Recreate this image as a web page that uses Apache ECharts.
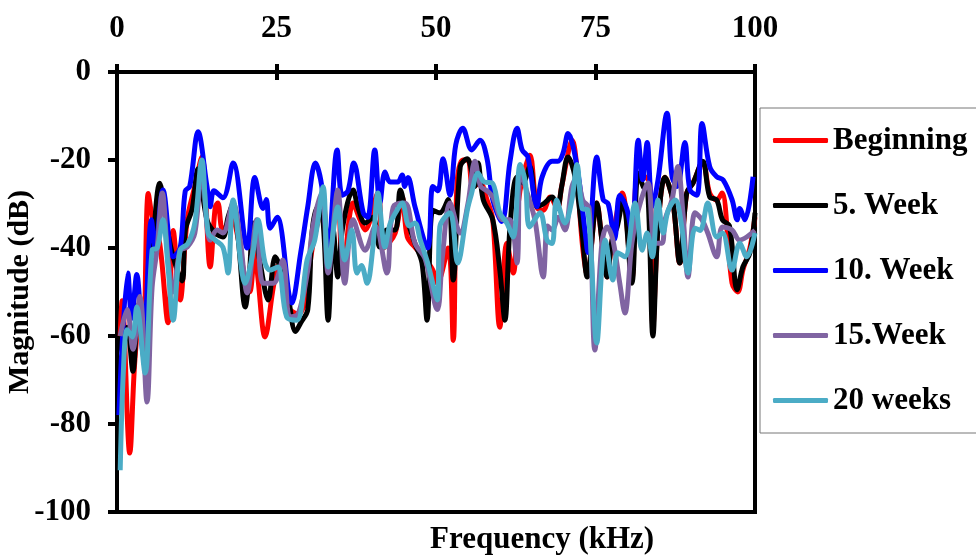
<!DOCTYPE html>
<html>
<head>
<meta charset="utf-8">
<script src="https://cdn.jsdelivr.net/npm/echarts@6/dist/echarts.min.js"></script>
<style>html,body{margin:0;padding:0;background:#fff}#c{width:976px;height:555px}</style>
</head>
<body>
<div id="c"></div>
<script>
const seriesNames = ['Beginning', '5. Week', '10. Week', '15.Week', '20 weeks'];
const seriesColors = ['#FF0000', '#000000', '#0000FF', '#8064A2', '#4BACC6'];
const xTicks = [0, 25, 50, 75, 100];
const yTicks = [0, -20, -40, -60, -80, -100];

const beginning = [[0.5,-60],[0.8,-52],[2.0,-86.6],[2.8,-65.5],[3.6,-55],[4.1,-63.9],[4.9,-27.6],[5.6,-33.6],[6.7,-39],[8.0,-57],[8.8,-36],[9.9,-51.8],[11.0,-33.6],[12.2,-26],[13.3,-19.3],[14.6,-44.3],[15.4,-30.7],[15.8,-29.8],[16.6,-35.9],[18.0,-33.6],[19.0,-38],[20.1,-47.3],[20.8,-50],[21.6,-40.5],[22.1,-47],[23.2,-60.2],[24.5,-48.9],[25.2,-44],[26.8,-53.4],[28.4,-55],[29.5,-52],[30.5,-41],[31.3,-35.2],[32.3,-29.8],[33.1,-43.4],[34.6,-28.4],[35.4,-46],[37.0,-29.8],[38.1,-33.6],[38.9,-35.9],[40.9,-27.5],[41.8,-40],[43.6,-36.6],[44.7,-28.4],[45.5,-37.5],[46.7,-39.8],[48.3,-42.5],[49.5,-45],[50.2,-48],[51.9,-40],[52.7,-61],[53.3,-25.2],[54.2,-20],[55.0,-20],[55.8,-26.1],[56.9,-25.2],[58.0,-29.1],[58.9,-33.6],[60.0,-58],[61.1,-38.9],[62.1,-45.7],[62.9,-29.8],[63.6,-23.9],[64.7,-18.9],[65.8,-30.7],[66.8,-31.4],[67.9,-28.4],[69.0,-31],[69.7,-26],[71.3,-15.5],[73.0,-40],[73.7,-46],[75.2,-29.8],[76.0,-38.2],[76.8,-46.6],[77.6,-38.2],[79.2,-27.5],[80.7,-47],[81.7,-23],[83.5,-25.2],[84.0,-58],[84.8,-35.2],[85.9,-23.9],[87.1,-29.1],[88.2,-43.4],[89.3,-27.5],[90.3,-25.2],[91.8,-20.5],[92.9,-27.5],[94.0,-29.1],[94.8,-27.5],[96.4,-48],[97.3,-50],[98.1,-45],[99.2,-40],[100,-33]];

const week5 = [[0.5,-60],[0.8,-64],[1.6,-58],[2.5,-68],[3.3,-53],[4.4,-67],[5.6,-40.5],[6.7,-25.3],[7.8,-35],[8.8,-42],[10.2,-47.5],[10.7,-36],[11.8,-31],[12.7,-22],[14.1,-33.6],[15.4,-36.6],[16.6,-37.5],[17.4,-33],[18.2,-30],[19.0,-38],[20.1,-53.4],[20.8,-45],[21.3,-34.3],[22.5,-44],[23.7,-51.8],[24.8,-42],[25.5,-44],[26.6,-49],[28.0,-59],[28.8,-57],[29.9,-54],[30.6,-36],[31.5,-30.6],[32.3,-34],[33.1,-56.4],[33.9,-36],[34.6,-46.6],[35.4,-35],[37.0,-26.8],[37.8,-31],[38.9,-34.3],[40.1,-33],[41.2,-39.8],[42.3,-35.9],[43.6,-35.9],[44.4,-26.8],[45.5,-33.6],[46.7,-39],[47.8,-43.4],[48.6,-56.4],[49.5,-31.4],[50.6,-32],[51.9,-29],[52.7,-47.3],[53.8,-21.5],[54.9,-19.7],[56.1,-26],[56.6,-20.7],[57.4,-29],[58.9,-33.6],[60.0,-45],[60.8,-56.4],[61.6,-35.2],[62.7,-23.9],[63.6,-25.2],[64.7,-21.5],[65.8,-30.6],[66.8,-30],[68.2,-28.4],[69.0,-31],[69.7,-26],[70.7,-19.3],[71.8,-23.9],[72.9,-36.6],[73.7,-46.6],[75.2,-29.8],[76.0,-38.2],[76.8,-46.6],[77.6,-38.2],[78.4,-35.2],[79.3,-29.1],[80.7,-48],[81.7,-23],[82.5,-26.1],[83.2,-27.5],[84.0,-60],[84.8,-35.2],[85.9,-23.9],[87.1,-29.1],[88.2,-43.4],[89.3,-27.5],[90.3,-25.2],[91.8,-20.3],[92.9,-28.4],[94.0,-29.1],[94.9,-33.6],[96.0,-35],[97.2,-49.5],[98.1,-44.3],[99.2,-41.1],[100,-32]];

const week10 = [[0.3,-78],[1.7,-45.7],[2.3,-56],[3.1,-46],[4.1,-64],[5.4,-33.6],[6.0,-40],[7.2,-26.8],[8.8,-42],[9.9,-40],[10.7,-27],[11.4,-26],[12.7,-13.6],[14.1,-26],[14.6,-30.6],[15.2,-27],[16.6,-28.6],[18.2,-20.7],[20.4,-40],[21.6,-24],[22.9,-31],[23.4,-29],[24.0,-35.5],[25.1,-33],[27.4,-52.5],[28.8,-41],[29.9,-30.6],[31.1,-20.7],[32.1,-26],[33.1,-40],[34.5,-17.7],[35.3,-28],[36.2,-27],[37.1,-20.7],[38.6,-32],[39.3,-33],[40.4,-17.7],[41.2,-29.8],[42.0,-22.7],[42.8,-25],[44.0,-25],[44.7,-23.4],[45.1,-26],[45.6,-24],[46.7,-30.6],[48.7,-40],[49.5,-26],[50.3,-27],[51.1,-19.7],[52.2,-28],[53.1,-16.5],[54.2,-12.8],[55.6,-17.7],[56.9,-15.5],[58.0,-19.7],[58.9,-29],[60.3,-34],[61.6,-20.3],[62.7,-12.8],[63.5,-17.7],[64.4,-19.3],[65.8,-30.6],[66.6,-24],[68.2,-20.3],[69.1,-20.3],[69.9,-18.5],[70.7,-14],[72.1,-21.5],[73.4,-36.7],[73.8,-41],[75.2,-19.3],[76.2,-29],[77.0,-30],[78.0,-38],[78.8,-28],[79.9,-31],[80.7,-36.7],[81.7,-15.5],[82.4,-24.5],[83.1,-16],[83.9,-30.6],[84.8,-24.5],[86.2,-9.4],[87.0,-23.8],[87.8,-26],[89.0,-16],[89.8,-26.8],[90.9,-28],[91.7,-11.7],[92.9,-21.5],[94.0,-23.8],[95.0,-24.5],[96.4,-29],[97.2,-33.6],[97.6,-31],[98.4,-33.6],[99.7,-23.8]];

const week15 = [[0.5,-60],[1.6,-54],[2.5,-63],[3.6,-51],[4.7,-75],[5.5,-49],[6.3,-40],[7.1,-27.5],[8.0,-42.7],[8.8,-50],[9.9,-40.5],[11.0,-39.8],[12.2,-36.6],[13.3,-22.3],[14.6,-38.2],[15.7,-35.9],[16.6,-36.6],[18.2,-29.8],[19.3,-38],[20.4,-50.2],[21.9,-33.6],[22.9,-48],[24.5,-48],[26.0,-42.7],[27.1,-55.7],[28.4,-55],[29.9,-45],[30.7,-35.2],[32.1,-27.5],[33.1,-45.7],[34.6,-26.8],[35.7,-48],[37.0,-33.6],[38.9,-40.5],[40.5,-35],[42.3,-45.7],[43.3,-30.7],[45.1,-29.8],[46.7,-38.9],[48.3,-42.5],[50.2,-54],[51.0,-42],[52.2,-29.8],[53.8,-36.6],[55.0,-30],[56.1,-20.3],[57.0,-26],[58.0,-27],[58.9,-28.4],[60.5,-33.6],[61.6,-33.6],[62.7,-43.4],[63.2,-21.5],[64.0,-26],[65.5,-33.6],[66.8,-46.6],[67.5,-35],[68.2,-35.9],[69.2,-33],[70.2,-35.9],[71.3,-26.1],[72.1,-23.9],[73.0,-29.1],[74.0,-31],[74.9,-63.2],[76.0,-38.9],[76.8,-35.2],[77.7,-38],[78.8,-48],[79.6,-54.8],[80.7,-38.9],[81.7,-31.4],[83.2,-25.2],[84.3,-38.9],[85.4,-38.9],[85.9,-33.6],[87.0,-29],[87.9,-21.5],[88.7,-32],[89.5,-46.6],[90.6,-32],[91.7,-33.6],[92.6,-36.6],[94.0,-42],[94.9,-35.2],[96.4,-35.9],[97.6,-38.2],[98.7,-37.5],[100,-36]];

const week20 = [[0.5,-90.5],[1.0,-68],[1.6,-58.6],[2.4,-60.2],[3.1,-53.4],[4.4,-68.4],[5.5,-40.5],[6.3,-40],[7.2,-33.6],[8.0,-44.3],[8.8,-56.4],[9.9,-40.5],[11.1,-39],[12.2,-34.3],[13.3,-20],[14.3,-36.6],[15.4,-38.2],[16.6,-39.8],[17.4,-45.7],[18.2,-29.1],[20.1,-48],[21.3,-41.1],[22.1,-33.6],[23.2,-43.4],[24.0,-45],[25.2,-44.3],[26.6,-55.7],[28.2,-56.4],[29.8,-42.7],[31.0,-38.2],[32.3,-26.1],[33.1,-44.3],[34.6,-30.7],[35.7,-42.7],[36.8,-35.9],[37.6,-45.7],[38.3,-44],[39.2,-48],[40.1,-40],[40.9,-27.5],[42.0,-39.8],[42.8,-34.5],[43.9,-31.4],[44.7,-29.8],[45.8,-35],[46.7,-34.3],[47.5,-38],[48.7,-43.4],[50.2,-51.8],[50.6,-35.2],[52.2,-32],[53.4,-43.4],[54.9,-31.4],[55.5,-28],[56.6,-23],[57.6,-25],[58.8,-25.2],[60.0,-32],[61.1,-34.3],[62.1,-37.5],[63.2,-21],[64.0,-25],[64.7,-35.2],[66.3,-32],[67.4,-38.2],[68.2,-39],[68.9,-29.1],[70.2,-34.3],[71.3,-29.1],[72.1,-21],[72.9,-31],[73.8,-31.4],[75.2,-61.6],[76.0,-44.3],[76.5,-38.2],[77.7,-47.3],[78.5,-41.1],[79.6,-42],[81.2,-29.8],[82.3,-40.5],[83.1,-36.6],[83.9,-42],[84.8,-29.1],[85.6,-36.6],[86.4,-31.4],[87.5,-29.1],[88.4,-34],[89.5,-45.7],[90.6,-35.5],[91.4,-36],[92.6,-29.8],[94.0,-37.5],[94.9,-36.6],[96.4,-45],[97.6,-38.9],[98.7,-42],[100,-36.6]];

const allData = [beginning, week5, week10, week15, week20];
const FONT = '"Liberation Serif", "Times New Roman", serif';

const chart = echarts.init(document.getElementById('c'), null, {renderer: 'canvas'});
const axisText = {fontFamily: FONT, fontWeight: 'bold', fontSize: 31, color: '#000'};

chart.setOption({
  animation: false,
  backgroundColor: '#fff',
  title: {
    text: 'Frequency (kHz)',
    left: 430, top: 524, padding: 0,
    textStyle: {fontFamily: FONT, fontWeight: 'bold', fontSize: 31, color: '#000'}
  },
  grid: {left: 117, top: 72, right: 221, bottom: 43, containLabel: false, outerBoundsMode: 'none',
         show: true, borderColor: '#000', borderWidth: 4, backgroundColor: 'transparent'},
  legend: {
    orient: 'vertical',
    left: 760, top: 108,
    padding: [17, 60, 17, 13],
    itemGap: 34,
    itemWidth: 55, itemHeight: 5,
    itemStyle: {borderWidth: 0},
    icon: 'roundRect',
    itemTextGap: 4,
    borderColor: '#777', borderWidth: 1,
    textStyle: {fontFamily: FONT, fontWeight: 'bold', fontSize: 31, color: '#000', lineHeight: 31},
    data: seriesNames
  },
  xAxis: [{
    type: 'value', position: 'top', min: xTicks[0], max: xTicks[xTicks.length - 1], interval: 25,
    axisLine: {show: true, lineStyle: {color: '#000', width: 4}},
    axisTick: {show: true, length: 8, lineStyle: {color: '#000', width: 4}},
    axisLabel: {show: true, margin: 28, ...axisText},
    splitLine: {show: false}
  }, {
    type: 'value', position: 'top', min: xTicks[0], max: xTicks[xTicks.length - 1], interval: 25,
    axisLine: {show: false},
    axisTick: {show: true, inside: true, length: 8, lineStyle: {color: '#000', width: 4}},
    axisLabel: {show: false},
    splitLine: {show: false}
  }],
  yAxis: {
    type: 'value', min: yTicks[yTicks.length - 1], max: yTicks[0], interval: 20,
    name: 'Magnitude (dB)', nameLocation: 'middle', nameGap: 82, nameRotate: 90,
    nameMoveOverlap: false,
    nameTextStyle: {fontFamily: FONT, fontWeight: 'bold', fontSize: 30, color: '#000'},
    axisLine: {show: true, lineStyle: {color: '#000', width: 4}},
    axisTick: {show: true, length: 9, lineStyle: {color: '#000', width: 4}},
    axisLabel: {margin: 26, ...axisText},
    splitLine: {show: false}
  },
  series: seriesNames.map((n, i) => ({
    name: n, type: 'line', xAxisIndex: 0, data: allData[i],
    smooth: 0.35, showSymbol: false, symbol: 'none',
    lineStyle: {color: seriesColors[i], width: 5},
    itemStyle: {color: seriesColors[i]},
    z: 2 + i
  }))
});
</script>
</body>
</html>
